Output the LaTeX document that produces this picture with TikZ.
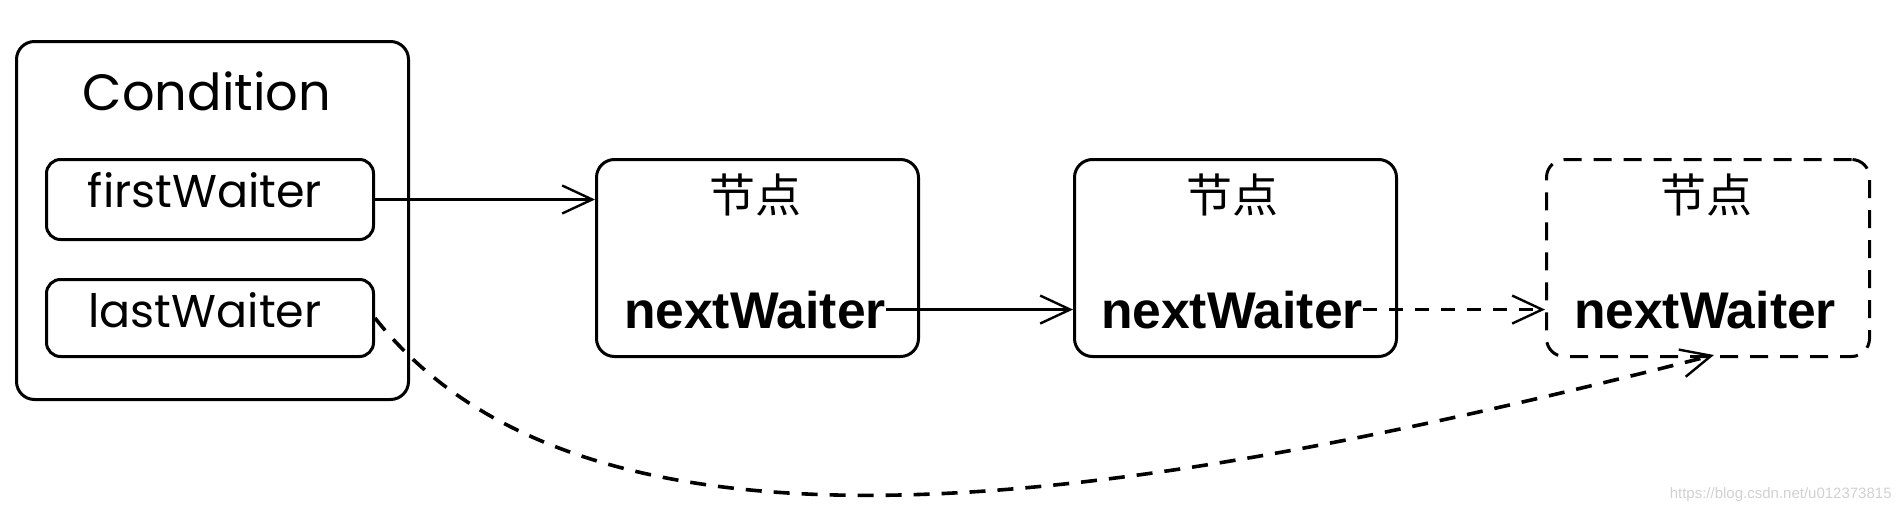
\documentclass[tikz,border=0pt]{standalone}
\usepackage{fontspec}
\setmainfont{Poppins}
\newfontfamily\cjk{Noto Sans CJK SC}
\newfontfamily\boldsans{Liberation Sans}
\usetikzlibrary{arrows.meta}
\tikzset{
  boxstyle/.style={draw, line width=1.5pt, rounded corners=9pt, anchor=north west, inner sep=0pt},
  fieldbox/.style={draw, line width=1.5pt, rounded corners=7pt, anchor=north west, inner sep=0pt},
  dashbox/.style={boxstyle, dash pattern=on 9pt off 6pt},
  plaintext/.style={font=\fontsize{23}{26}\selectfont, anchor=base, inner sep=0pt},
  titletext/.style={font=\fontsize{25.5}{30}\selectfont, anchor=base, inner sep=0pt},
  cjktext/.style={font=\cjk\fontsize{23}{26}\selectfont, anchor=base, inner sep=0pt},
  nwtext/.style={font=\boldsans\bfseries\fontsize{25.8}{28}\selectfont, anchor=base, inner sep=0pt},
  link/.style={line width=1.2pt, -{Straight Barb[length=15pt,width=14pt,line width=1.2pt]}},
  dashlink/.style={link, dash pattern=on 7pt off 6pt},
  curvelink/.style={line width=1.8pt, dash pattern=on 8pt off 6pt, -{Straight Barb[length=15pt,width=14pt,line width=1.2pt]}},
}
\begin{document}
\begin{tikzpicture}[x=0.5pt,y=-0.5pt]
\useasboundingbox (0,0) rectangle (1902,514);
% Condition
\node[boxstyle, minimum width=196pt, minimum height=179pt] (cond) at (15,40) {};
\node[titletext] (condt) at (207,110) {Condition};
\node[fieldbox, minimum width=163.5pt, minimum height=40pt] (fw) at (45,158) {};
\node[plaintext] (fwt) at (205,207) {firstWaiter};
\node[fieldbox, minimum width=163.5pt, minimum height=38.5pt] (lw) at (45,278) {};
\node[plaintext] (lwt) at (205,327) {lastWaiter};
% nodes
\node[boxstyle, minimum width=161pt, minimum height=98.5pt] (n1) at (595,158) {};
\node[cjktext] (c1) at (755,212) {节点};
\node[nwtext] (w1) at (755,328) {nextWaiter};
\node[boxstyle, minimum width=161pt, minimum height=98.5pt] (n2) at (1073,158) {};
\node[cjktext] (c2) at (1232,212) {节点};
\node[nwtext] (w2) at (1232,328) {nextWaiter};
\node[dashbox, minimum width=161.5pt, minimum height=98.5pt] (n3) at (1545,158) {};
\node[cjktext] (c3) at (1706,212) {节点};
\node[nwtext] (w3) at (1705,328) {nextWaiter};
\coordinate (tip) at (1714,355);
% connectors
\draw[link] (fw.east) -- (n1.west |- fw.east);
\draw[link] (w1.east) -- (n2.west |- w1.east);
\draw[dashlink] (w2.east) -- (n3.west |- w2.east);
\draw[curvelink] (lw.east) .. controls (590,590) and (1130,505) .. (tip);
% watermark
\node[font=\boldsans\fontsize{7.5}{9}\selectfont, text=black!18, anchor=east, inner sep=0pt] (wm) at (1892,495) {https://blog.csdn.net/u012373815};
\end{tikzpicture}
\end{document}
